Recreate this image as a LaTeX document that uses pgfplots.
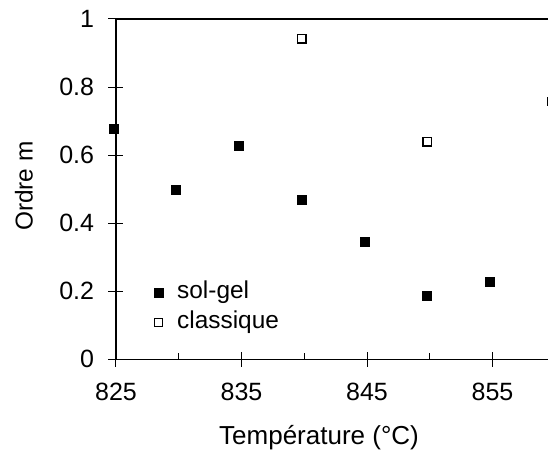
\documentclass[border=0pt]{standalone}
\usepackage{pgfplots}
\pgfplotsset{compat=1.18}
\usepackage{fontspec}
\setmainfont{Liberation Sans}
\begin{document}
\begin{tikzpicture}
\begin{axis}[
  at={(0,0)}, anchor=south west,
  scale only axis, width=216pt, height=170.15pt,
  xmin=825, xmax=859.42, ymin=0, ymax=1,
  clip=false,
  axis lines*=left,
  axis line style={-, line width=0.6pt},
  font=\fontsize{12.5}{14}\selectfont,
  /pgf/number format/assume math mode=true,
  xtick={825,835,845,855},
  minor xtick={830,840,850},
  ytick={0,0.2,0.4,0.6,0.8,1},
  yticklabels={0,0.2,0.4,0.6,0.8,1},
  xticklabels={825,835,845,855},
  tick align=center,
  major tick length=7.5pt,
  minor tick length=3pt,
  tick style={black, line width=0.5pt},
  minor x tick style={yshift=1.5pt},
  xticklabel style={anchor=north, inner sep=0pt, yshift=-8pt},
  yticklabel style={anchor=east, inner sep=0pt, xshift=-7pt},
  xlabel={Température (°C)},
  ylabel={Ordre m},
  xlabel style={at={(axis description cs:0.47,-0.2313)}, anchor=center, font=\fontsize{13}{15}\selectfont},
  ylabel style={at={(axis description cs:-0.213,0.509)}, anchor=center, rotate=0, font=\fontsize{12.2}{14}\selectfont},
  legend cell align=left,
  legend style={draw=none, fill=none, inner sep=0pt,
    at={(axis description cs:0.0875,0.2282)}, anchor=north west,
    font=\fontsize{12.2}{14}\selectfont,
    nodes={inner sep=0pt, text height=8pt, text depth=2.5pt},
    row sep=4.5pt, column sep=7pt},
  legend image code/.code={\draw[mark repeat=2,mark phase=2,#1] plot coordinates {(0pt,0pt)(2.25pt,0pt)(19pt,0pt)};},
]
\addplot[only marks, mark=square*, mark size=2.25pt, black] coordinates {
(824.8,0.677) (829.75,0.498) (834.8,0.628) (839.8,0.468) (844.8,0.346) (849.8,0.186) (854.8,0.227)
};
\addlegendentry{sol-gel}
\addplot[only marks, mark=square, mark size=2.1pt, black, mark options={line width=0.6pt}] coordinates {
(839.8,0.942) (849.8,0.639) (859.72,0.758)
};
\addlegendentry{classique}
\draw[line width=0.6pt] (rel axis cs:0,1) -- (rel axis cs:1,1);
\end{axis}
\pgfresetboundingbox
\useasboundingbox (-58pt,-46.85pt) rectangle (216pt,179.65pt);
\end{tikzpicture}
\end{document}
